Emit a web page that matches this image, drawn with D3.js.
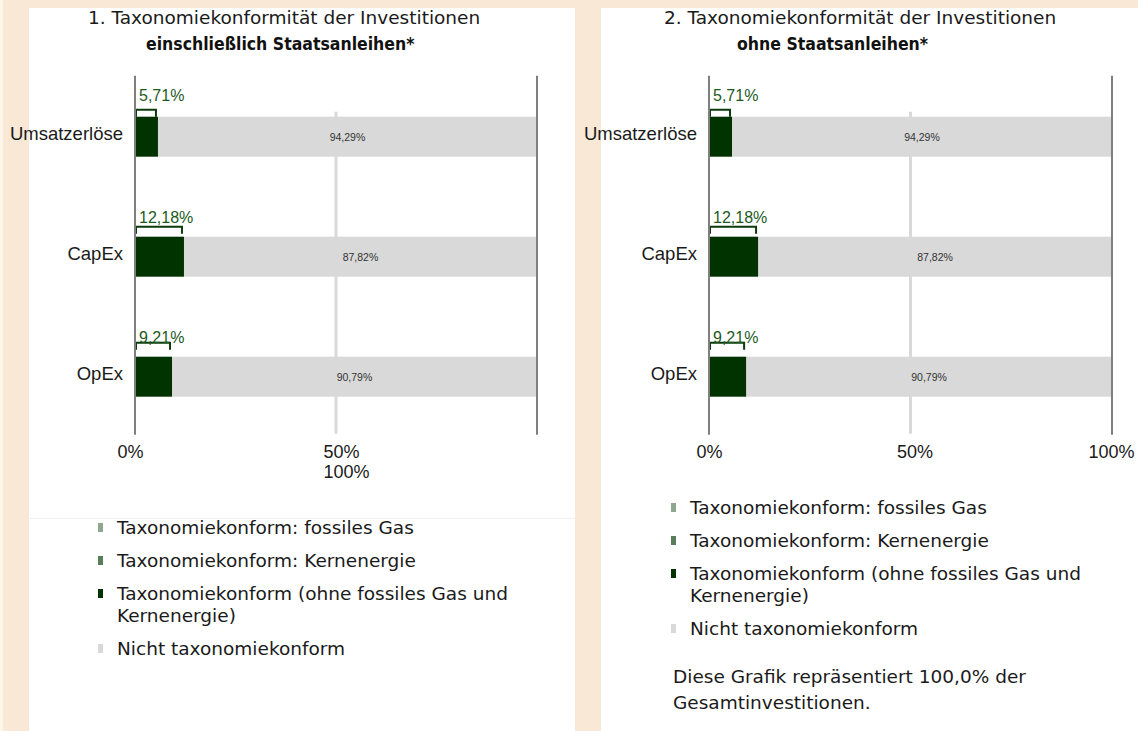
<!DOCTYPE html>
<html>
<head>
<meta charset="utf-8">
<script src="https://cdn.jsdelivr.net/npm/d3@7"></script>
<style>
	body { margin: 0; background: #f9e8d6; }
	svg { display: block; }
	.title { font-family: "DejaVu Sans", Verdana, sans-serif; font-size: 18.5px; fill: #1a1a1a; }
	.title-bold { font-family: "DejaVu Sans Condensed", "DejaVu Sans", sans-serif; font-stretch: condensed; font-weight: bold; font-size: 17.5px; fill: #111; }
	.cat-axis text { font-family: "Liberation Sans", Arial, sans-serif; font-size: 18.5px; fill: #1a1a1a; }
	.x-axis text { font-family: "Liberation Sans", Arial, sans-serif; font-size: 18px; fill: #1a1a1a; }
	.green-label { font-family: "Liberation Sans", Arial, sans-serif; font-size: 16px; fill: #1d5a1d; }
	.gray-label { font-family: "Liberation Sans", Arial, sans-serif; font-size: 10.5px; fill: #333; }
	.legend text, .note { font-family: "DejaVu Sans", Verdana, sans-serif; font-size: 18.5px; fill: #1a1a1a; }
</style>
</head>
<body>
<svg id="chart" width="1138" height="731"></svg>
<script>

// categories and values (percent)
var categories = ["Umsatzerlöse", "CapEx", "OpEx"];
var alignedIncl = [5.71, 12.18, 9.21];
var notAlignedIncl = [94.29, 87.82, 90.79];
var alignedExcl = [5.71, 12.18, 9.21];
var notAlignedExcl = [94.29, 87.82, 90.79];
var xTicks = [0, 50, 100];

var titlesIncl = ["1. Taxonomiekonformität der Investitionen", "einschließlich Staatsanleihen*"];
var titlesExcl = ["2. Taxonomiekonformität der Investitionen", "ohne Staatsanleihen*"];

var legendLabels = [
	"Taxonomiekonform: fossiles Gas",
	"Taxonomiekonform: Kernenergie",
	"Taxonomiekonform (ohne fossiles Gas und Kernenergie)",
	"Nicht taxonomiekonform"
];
var legendColors = ["#8ea78e", "#5a7d5a", "#003300", "#d9d9d9"];
var noteText = "Diese Grafik repräsentiert 100,0% der Gesamtinvestitionen.";

var W = 1138, H = 731;
var darkGreen = "#003300", barGray = "#d9d9d9", axisGray = "#7f7f7f";

var fmt = d3.formatLocale({decimal: ",", thousands: ".", grouping: [3], currency: ["", " €"]}).format(".2f");

// per row: how far bracket / green label sit above the bar
var bracketLift = [7, 10, 14];
var labelRise = [16, 14, 14];

var svg = d3.select("#chart");

// thin light strip at far left
svg.append("rect").attr("x", 0).attr("y", 0).attr("width", 3).attr("height", H).attr("fill", "#fdf5ec");

var panels = [
	{ titles: titlesIncl, aligned: alignedIncl, notAligned: notAlignedIncl,
	  left: 29, width: 546, x0: 135, x1: 537, titleX: [88, 146],
	  legendX: 117, legendY: 534, note: false, stackTicks: true },
	{ titles: titlesExcl, aligned: alignedExcl, notAligned: notAlignedExcl,
	  left: 601, width: 537, x0: 709, x1: 1112, titleX: [664, 737],
	  legendX: 690, legendY: 514, note: true, stackTicks: false }
];

panels.forEach(function(p) {
	var g = svg.append("g");

	// white panel
	g.append("rect")
		.attr("x", p.left).attr("y", 8)
		.attr("width", p.width).attr("height", H - 8)
		.attr("fill", "#fff");

	// titles
	g.append("text").attr("class", "title").attr("x", p.titleX[0]).attr("y", 24).text(p.titles[0]);
	g.append("text").attr("class", "title-bold").attr("x", p.titleX[1]).attr("y", 50).text(p.titles[1]);

	var x = d3.scaleLinear().domain([0, 100]).range([p.x0, p.x1]);
	var y = d3.scaleBand().domain(categories).range([76.7, 436.7]).paddingInner(2 / 3).paddingOuter(1 / 3);
	var top = y.range()[0], bottom = y.range()[1];

	var rows = categories.map(function(c, i) {
		return { cat: c, aligned: p.aligned[i], rest: p.notAligned[i], i: i };
	});

	// 50% gridline
	g.append("line")
		.attr("x1", x(50)).attr("x2", x(50))
		.attr("y1", y(categories[0]) - 5).attr("y2", bottom - 3)
		.attr("stroke", barGray).attr("stroke-width", 3);

	// gray (not aligned) bars
	g.selectAll(".bar-rest").data(rows).enter().append("rect")
		.attr("class", "bar-rest")
		.attr("x", function(d) { return x(d.aligned); })
		.attr("y", function(d) { return y(d.cat); })
		.attr("width", function(d) { return x(d.aligned + d.rest) - x(d.aligned); })
		.attr("height", y.bandwidth())
		.attr("fill", barGray);

	// green (aligned) bars
	g.selectAll(".bar-aligned").data(rows).enter().append("rect")
		.attr("class", "bar-aligned")
		.attr("x", x(0))
		.attr("y", function(d) { return y(d.cat); })
		.attr("width", function(d) { return x(d.aligned) - x(0); })
		.attr("height", y.bandwidth())
		.attr("fill", darkGreen);

	// labels inside gray bars
	g.selectAll(".gray-label").data(rows).enter().append("text")
		.attr("class", "gray-label")
		.attr("x", function(d) { return (x(d.aligned) + x(d.aligned + d.rest)) / 2; })
		.attr("y", function(d) { return y(d.cat) + y.bandwidth() / 2 + 4; })
		.attr("text-anchor", "middle")
		.text(function(d) { return fmt(d.rest) + "%"; });

	// brackets over the green bars
	g.selectAll(".bracket").data(rows).enter().append("path")
		.attr("class", "bracket")
		.attr("d", function(d) {
			var yt = y(d.cat) - bracketLift[d.i], x0 = x(0) + 1, x1 = x(d.aligned) - 2;
			return "M" + x0 + "," + (yt + 7) + "V" + yt + "H" + x1 + "V" + (yt + 7);
		})
		.attr("fill", "none")
		.attr("stroke", "#0b3b0b")
		.attr("stroke-width", 2);

	g.selectAll(".green-label").data(rows).enter().append("text")
		.attr("class", "green-label")
		.attr("x", x(0) + 4)
		.attr("y", function(d) { return y(d.cat) - labelRise[d.i]; })
		.text(function(d) { return fmt(d.aligned) + "%"; });

	// axis lines at 0% and 100%
	[0, 100].forEach(function(v) {
		g.append("line")
			.attr("x1", x(v)).attr("x2", x(v))
			.attr("y1", top - 1).attr("y2", bottom - 2)
			.attr("stroke", axisGray).attr("stroke-width", 2);
	});

	// category axis
	var yAxis = d3.axisLeft(y).tickSize(0).tickPadding(12);
	g.append("g")
		.attr("class", "cat-axis")
		.attr("transform", "translate(" + x(0) + ",0)")
		.call(yAxis)
		.call(function(a) { a.select(".domain").remove(); })
		.selectAll("text").attr("dy", "0.18em");

	// x axis
	var xAxis = d3.axisBottom(x).tickValues(xTicks).tickSize(0).tickFormat(function(d) { return d + "%"; });
	var xg = g.append("g")
		.attr("class", "x-axis")
		.attr("transform", "translate(0,458)")
		.call(xAxis)
		.call(function(a) { a.select(".domain").remove(); });
	xg.selectAll("text").attr("y", 0).attr("dy", null);

	if (p.stackTicks) {
		// the 100% label falls under the 50% label here
		xg.selectAll(".tick").each(function(d) {
			var t = d3.select(this).select("text");
			if (d === 0) t.attr("dx", -5);
			if (d === 50) t.attr("text-anchor", "start").attr("x", -13);
			if (d === 100) t.attr("text-anchor", "start").attr("x", x(50) - x(100) - 13).attr("y", 20);
		});
	} else {
		xg.selectAll(".tick").each(function(d) {
			var t = d3.select(this).select("text");
			if (d === 50) t.attr("dx", 4);
			if (d === 100) t.attr("dx", -1);
		});
	}

	// legend
	var leg = g.append("g").attr("class", "legend");
	var ly = p.legendY;
	legendLabels.forEach(function(label, i) {
		leg.append("rect")
			.attr("x", p.legendX - 19).attr("y", ly - 11)
			.attr("width", 5).attr("height", 9)
			.attr("fill", legendColors[i]);
		var t = leg.append("text").attr("x", p.legendX).attr("y", ly).text(label);
		var n = wrap(t, 420, 22);
		ly += (n - 1) * 22 + 33;
	});

	if (p.note) {
		var nt = g.append("text").attr("class", "note")
			.attr("x", p.legendX - 17).attr("y", ly - 33 + 48)
			.text(noteText);
		wrap(nt, 400, 26);
	}

	if (p.stackTicks) {
		g.append("line")
			.attr("x1", p.left).attr("x2", p.left + p.width)
			.attr("y1", 518.5).attr("y2", 518.5)
			.attr("stroke", "#f1f1f1").attr("stroke-width", 1);
	}
});

function wrap(t, width, lineHeight) {
	var words = t.text().split(" "), xPos = t.attr("x");
	t.text(null);
	var line = [], n = 1;
	var tspan = t.append("tspan").attr("x", xPos);
	words.forEach(function(w) {
		line.push(w);
		tspan.text(line.join(" "));
		if (tspan.node().getComputedTextLength() > width && line.length > 1) {
			line.pop();
			tspan.text(line.join(" "));
			line = [w];
			tspan = t.append("tspan").attr("x", xPos).attr("dy", lineHeight).text(w);
			n++;
		}
	});
	return n;
}
</script>
</body>
</html>
